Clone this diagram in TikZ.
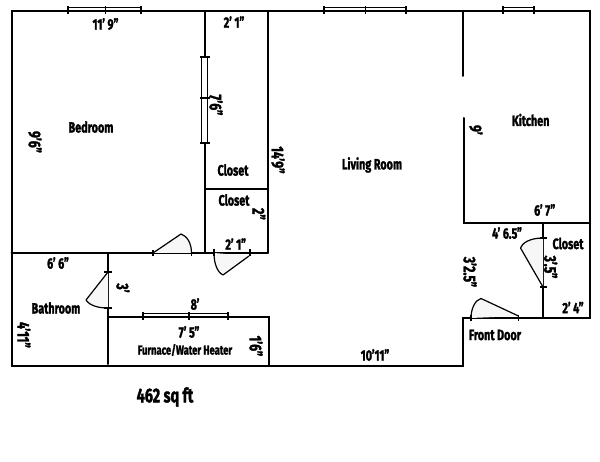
\documentclass[tikz,border=0pt]{standalone}
\usepackage{fontspec}
\setmainfont[FakeStretch=0.72,BoldFeatures={FakeBold=1.6}]{Fira Sans}
\usepackage{tikz}
\tikzstyle{wall}=[line width=2pt, draw=black, line cap=round, line join=miter]
\tikzstyle{pane}=[line width=1pt, draw=black, fill=white]
\tikzstyle{tick}=[line width=1.5pt, draw=black]
\tikzstyle{door}=[line width=1.2pt, draw=black, fill=black!3, line join=round]
\tikzstyle{annot}=[align=center, inner sep=0pt, font=\fontsize{15}{15}\selectfont\bfseries]
\tikzstyle{dim}=[annot, rotate=-90, font=\fontsize{17}{17}\selectfont\bfseries]
\newcommand{\hwindow}[4]
{
  % y, then left, middle and right end
  \draw[pane] (#2,#1-3) rectangle (#4,#1);
  \foreach \tx in {#2,#3,#4} \draw[tick] (\tx,#1-4.5) -- (\tx,#1+3);
}
\begin{document}
\begin{tikzpicture}[x=1pt,y=-1pt]
	\useasboundingbox (0,0) rectangle (600,462);

	% outer walls
	\draw[wall] (11.5,11) -- (590,11) -- (590,318) -- (463,318) -- (463,366) -- (11.5,366) -- cycle;

	% bedroom and closets
	\draw[wall] (205,11) -- (205,253);
	\draw[wall] (268,11) -- (268,253);
	\draw[wall] (205,189.5) -- (268,189.5);
	\draw[wall] (11.5,253) -- (268,253);

	% bathroom and furnace
	\draw[wall] (108,253) -- (108,364);
	\draw[wall] (108,317) -- (269,317) -- (269,366);

	% kitchen and closet
	\draw[wall] (463,11) -- (463,76);
	\draw[wall] (463.5,118) -- (463.5,223) -- (590,223);
	\draw[wall] (543,223) -- (543,318);

	% windows
	\hwindow{11}{68}{105.5}{141}
	\hwindow{11}{324}{365.7}{406}
	\hwindow{11}{503}{503}{534}
	\hwindow{317}{143}{189}{228}
	\draw[pane] (201,57) rectangle (207.5,143);
	\foreach \ty in {57,98,143} \draw[tick] (200,\ty) -- (210,\ty);

	% doors
	\draw[door] (153,253) -- (181,234) .. controls (187,236) and (191.5,243) .. (191.5,253);
	\foreach \tx in {153,191.5} \draw[tick] (\tx,250) -- (\tx,256);
	\draw[door] (214,253) .. controls (214,263) and (217,272) .. (223,275) -- (249,256);
	\foreach \tx in {214,250} \draw[tick] (\tx,249) -- (\tx,256);
	\draw[door] (108,272) -- (86,300) .. controls (90,306) and (99,308) .. (108,308);
	\foreach \ty in {272,308} \draw[tick] (104,\ty) -- (112,\ty);
	\draw[door] (543,287) -- (520.5,248) .. controls (522,243) and (530,238) .. (543,238);
	\foreach \ty in {238,287} \draw[tick] (540,\ty) -- (547,\ty);
	\draw[door] (471,318) .. controls (471,309) and (475,300) .. (481,298.5) -- (518.5,316);
	\foreach \tx in {471,518.5} \draw[tick] (\tx,315) -- (\tx,321);

	% room names
	\node[annot] (bedroom) at (91,127) {Bedroom};
	\node[annot] (living) at (372,165) {Living Room};
	\node[annot] (kitchen) at (530.7,120) {Kitchen};
	\node[annot] (closeta) at (233,170) {Closet};
	\node[annot] (closetb) at (234,200) {Closet};
	\node[annot] (closetc) at (568,243.5) {Closet};
	\node[annot] (bathroom) at (56,308) {Bathroom};
	\node[annot] (frontdoor) at (495,335) {Front Door};
	\node[annot] (furnace) at (185,350) {\fontsize{13}{13}\selectfont Furnace/Water Heater};
	\node[annot] (area) at (165,397) {\fontsize{20}{20}\selectfont 462 sq ft};

	% horizontal sizes
	\node[annot] (beda) at (105.5,24) {11' 9"};
	\node[annot] (closeta1) at (234,22) {2' 1"};
	\node[annot] (closetb1) at (235.7,244) {2' 1"};
	\node[annot] (kitchen1) at (544.7,210) {6' 7"};
	\node[annot] (hall1) at (507,233) {4' 6.5"};
	\node[annot] (closetc1) at (573,307.5) {2' 4"};
	\node[annot] (living1) at (375,355) {10'11"};
	\node[annot] (bath1) at (58,263) {6' 6"};
	\node[annot] (hall2) at (195,304) {8'};
	\node[annot] (furnace1) at (189,332) {7' 5"};

	% vertical sizes
	\node[dim] (bedb) at (35,142) {9'6"};
	\node[dim] (bedc) at (216,105) {7'6"};
	\node[dim] (living2) at (278,160) {14'9"};
	\node[dim] (closetb2) at (259,214) {2"};
	\node[dim] (kitchen2) at (476,130) {9'};
	\node[dim] (closetc2) at (550.7,267) {3'.5"};
	\node[dim] (hall3) at (470,272) {3'2.5"};
	\node[dim] (hall4) at (123,288) {3'};
	\node[dim] (furnace2) at (256,346) {1'6"};
	\node[dim] (bath2) at (24,335) {4'11"};
\end{tikzpicture}
\end{document}
